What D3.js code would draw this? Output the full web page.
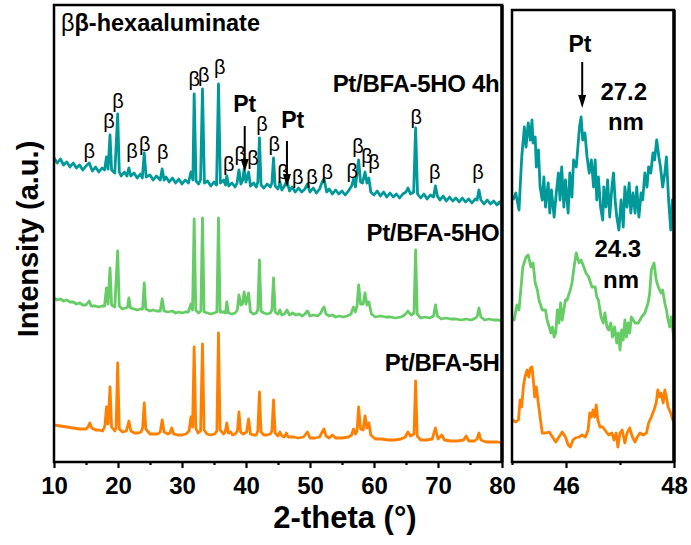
<!DOCTYPE html>
<html>
<head>
<meta charset="utf-8">
<script src="https://cdn.jsdelivr.net/npm/d3@7"></script>
<style>
  html, body { margin: 0; padding: 0; background: #fff; }
  svg { display: block; }
</style>
</head>
<body>
<script>
// ---------- XRD patterns, full range (2-theta in degrees, intensity in a.u., stacked) ----------
const pattern4h = [
  [10.0,304],[10.5,299],[11.0,303],[11.5,297],[12.0,300],[12.5,295],[13.0,299],[13.5,294],[14.0,297],[14.5,292],
  [15.0,296],[15.5,299],[16.0,291],[16.5,295],[17.0,290],[17.5,294],[17.9,292],[18.2,305],[18.45,293],[18.75,327],
  [19.0,292],[19.5,289],[19.95,348],[20.2,290],[20.5,286],[21.0,290],[21.4,286],[21.7,294],[22.0,286],[22.5,289],
  [23.0,284],[23.5,288],[23.8,284],[24.1,309],[24.4,285],[25.0,287],[25.5,282],[26.0,286],[26.6,282],[26.9,293],
  [27.2,282],[27.5,285],[28.0,280],[28.5,284],[29.0,279],[29.5,283],[30.0,278],[30.5,282],[31.0,279],[31.4,290],
  [31.7,282],[31.9,368],[32.2,281],[32.6,278],[32.9,282],[33.2,373],[33.5,279],[34.0,281],[34.5,276],[35.0,280],
  [35.4,277],[35.7,378],[36.0,279],[36.5,282],[36.8,277],[37.0,286],[37.3,276],[37.8,279],[38.3,275],[38.6,279],
  [38.9,292],[39.2,278],[39.5,282],[39.7,293],[40.0,280],[40.4,290],[40.7,276],[41.2,279],[41.6,275],[41.85,280],
  [42.1,324],[42.35,277],[42.8,274],[43.3,278],[43.8,275],[44.05,279],[44.3,304],[44.55,276],[45.0,273],[45.3,280],
  [45.6,272],[46.0,276],[46.4,281],[46.8,271],[47.2,275],[47.7,270],[48.2,274],[48.7,270],[49.2,273],[49.6,278],
  [50.0,270],[50.5,274],[51.0,269],[51.5,273],[51.9,280],[52.2,283],[52.6,270],[53.0,273],[53.5,268],[54.0,272],
  [54.5,268],[55.0,271],[55.5,267],[56.0,271],[56.5,276],[56.8,283],[57.1,275],[57.6,302],[57.9,280],[58.2,279],
  [58.6,290],[58.9,279],[59.2,284],[59.5,270],[60.0,267],[60.5,271],[61.0,266],[61.5,270],[62.0,265],[62.5,269],
  [63.0,265],[63.5,268],[64.0,264],[64.5,268],[65.0,270],[65.3,274],[65.7,268],[66.2,270],[66.5,334],[66.8,268],
  [67.3,264],[67.8,268],[68.3,263],[68.8,267],[69.3,265],[69.6,276],[69.9,266],[70.3,262],[70.8,266],[71.3,261],
  [71.8,265],[72.3,261],[72.8,264],[73.3,260],[73.8,264],[74.3,260],[74.8,263],[75.3,259],[75.8,263],[76.1,262],
  [76.4,272],[76.7,262],[77.2,258],[77.7,262],[78.2,258],[78.7,261],[79.2,257],[79.6,260],[80.0,257]
];

const patternHO = [
  [10.0,164],[10.5,162],[11.0,163],[11.5,161],[12.0,162],[12.5,160],[13.0,160],[13.5,158],[14.0,159],[14.5,157],
  [15.0,157],[15.5,161],[15.8,156],[16.5,156],[17.0,155],[17.5,156],[17.9,156],[18.2,174],[18.45,158],[18.75,194],
  [19.0,157],[19.5,155],[19.95,211],[20.2,156],[20.7,153],[21.2,154],[21.5,155],[21.7,164],[21.95,154],[22.5,153],
  [23.0,152],[23.5,153],[23.85,153],[24.1,179],[24.35,153],[25.0,151],[25.5,152],[26.0,151],[26.6,151],[26.9,163],
  [27.2,151],[27.8,150],[28.5,151],[29.0,149],[29.5,150],[30.0,149],[30.5,150],[31.0,150],[31.4,158],[31.65,152],
  [31.9,243],[32.15,152],[32.6,149],[32.95,151],[33.2,244],[33.45,150],[34.0,149],[34.5,148],[35.0,149],[35.45,150],
  [35.7,244],[35.95,150],[36.5,150],[36.8,149],[37.0,160],[37.25,149],[37.8,148],[38.3,149],[38.65,152],[38.9,167],
  [39.2,157],[39.45,158],[39.7,170],[40.0,158],[40.4,169],[40.7,150],[41.2,148],[41.6,149],[41.85,152],[42.1,202],
  [42.35,151],[42.8,149],[43.3,148],[43.8,149],[44.05,152],[44.3,184],[44.55,150],[45.0,148],[45.3,152],[45.6,147],
  [46.0,148],[46.4,152],[46.8,147],[47.3,149],[47.8,147],[48.3,148],[48.8,146],[49.2,148],[49.6,151],[50.0,146],
  [50.6,147],[51.2,146],[51.7,149],[51.95,153],[52.2,155],[52.5,148],[53.0,146],[53.5,147],[54.0,145],[54.6,146],
  [55.2,145],[55.8,146],[56.4,148],[56.8,155],[57.1,150],[57.35,156],[57.6,177],[57.9,158],[58.3,158],[58.6,169],
  [58.9,157],[59.2,160],[59.6,148],[60.2,145],[61.0,146],[61.8,145],[62.6,145],[63.4,144],[64.2,145],[64.8,147],
  [65.3,151],[65.8,147],[66.25,149],[66.5,212],[66.75,148],[67.3,144],[68.0,145],[68.7,144],[69.3,146],[69.6,157],
  [69.9,146],[70.5,143],[71.2,144],[72.0,143],[72.8,143],[73.6,142],[74.4,143],[75.2,142],[75.9,144],[76.15,146],
  [76.4,154],[76.7,145],[77.3,142],[78.0,143],[78.7,142],[79.4,142],[80.0,141]
];

const patternH = [
  [10.0,37],[11.0,36],[12.0,35],[13.0,34],[14.0,33],[15.0,33],[15.3,35],[15.6,39],[15.9,34],[16.5,32],
  [17.0,32],[17.6,31],[17.95,36],[18.2,55],[18.45,38],[18.75,75],[19.0,35],[19.5,31],[19.7,34],[19.95,99],
  [20.2,33],[20.7,30],[21.3,31],[21.7,41],[22.0,31],[22.6,29],[23.2,29],[23.6,30],[23.85,34],[24.1,59],
  [24.35,33],[25.0,28],[25.6,28],[26.2,28],[26.6,30],[26.9,42],[27.2,30],[27.8,28],[28.1,29],[28.4,34],
  [28.7,28],[29.3,27],[30.0,27],[30.6,28],[31.1,31],[31.4,45],[31.65,35],[31.9,115],[32.15,34],[32.5,29],
  [32.9,31],[33.2,118],[33.45,32],[33.9,28],[34.5,27],[35.1,28],[35.45,31],[35.7,129],[35.95,32],[36.5,28],
  [36.75,30],[37.0,39],[37.25,29],[37.6,30],[37.9,27],[38.3,28],[38.65,31],[38.9,50],[39.15,30],[39.6,28],
  [40.1,30],[40.4,43],[40.7,28],[41.2,27],[41.6,27],[41.85,31],[42.1,70],[42.35,30],[42.8,27],[43.3,27],
  [43.8,28],[44.05,31],[44.3,62],[44.55,29],[45.0,26],[45.3,30],[45.6,26],[46.0,25],[46.3,29],[46.6,25],
  [47.4,25],[48.2,24],[49.0,25],[49.6,30],[50.0,24],[50.8,24],[51.5,25],[51.9,30],[52.2,33],[52.5,26],
  [53.0,24],[53.5,27],[54.0,24],[55.0,24],[56.0,25],[56.5,27],[56.8,33],[57.1,28],[57.35,31],[57.6,55],
  [57.9,33],[58.3,32],[58.6,46],[58.9,34],[59.2,39],[59.5,27],[60.2,23],[61.2,23],[62.2,22],[63.2,22],
  [64.2,23],[64.9,25],[65.3,30],[65.7,26],[66.25,28],[66.5,81],[66.75,26],[67.3,22],[68.2,22],[69.1,23],
  [69.6,34],[70.0,23],[70.6,27],[71.0,22],[72.0,21],[73.0,21],[74.0,22],[74.4,26],[74.8,21],[75.7,21],
  [76.1,23],[76.4,29],[76.7,22],[77.5,20],[78.5,20],[79.3,20],[80.0,19]
];

// ---------- Pt(200) region, 45-48 degrees (magnified intensity, stacked) ----------
const zoom4h = [
  [45.02,262],[45.07,269],[45.13,252],[45.18,305],[45.23,335],[45.26,315],[45.30,339],[45.34,322],[45.37,342],[45.39,319],
  [45.43,325],[45.45,295],[45.49,312],[45.52,275],[45.56,262],[45.59,285],[45.62,255],[45.67,279],[45.70,249],[45.73,272],
  [45.78,245],[45.82,269],[45.86,289],[45.89,262],[45.92,295],[45.96,255],[45.99,282],[46.04,249],[46.07,289],[46.11,265],
  [46.14,302],[46.19,295],[46.22,315],[46.25,335],[46.28,345],[46.31,322],[46.35,329],[46.39,305],[46.43,289],[46.47,302],
  [46.51,275],[46.54,302],[46.57,262],[46.60,285],[46.64,255],[46.68,242],[46.70,275],[46.74,255],[46.77,282],[46.81,245],
  [46.85,275],[46.88,289],[46.91,262],[46.94,245],[46.98,232],[47.02,262],[47.06,235],[47.09,275],[47.13,255],[47.17,279],
  [47.20,249],[47.24,269],[47.28,249],[47.31,275],[47.35,245],[47.39,269],[47.42,262],[47.46,289],[47.50,275],[47.53,295],
  [47.57,289],[47.61,309],[47.64,302],[47.68,322],[47.72,305],[47.75,295],[47.79,275],[47.83,289],[47.86,305],[47.90,262],
  [47.94,232],[47.97,262],[48.00,242]
];

const zoomHO = [
  [45.01,145],[45.04,142],[45.09,157],[45.13,152],[45.20,195],[45.26,205],[45.30,207],[45.35,195],[45.39,199],[45.43,179],
  [45.47,172],[45.50,162],[45.56,152],[45.62,152],[45.65,142],[45.69,135],[45.72,129],[45.75,135],[45.78,125],[45.81,129],
  [45.84,152],[45.87,139],[45.90,159],[45.93,142],[45.96,152],[45.99,162],[46.02,162],[46.08,172],[46.11,179],[46.16,199],
  [46.19,209],[46.24,199],[46.28,202],[46.33,195],[46.37,189],[46.42,185],[46.48,175],[46.54,175],[46.57,165],[46.60,162],
  [46.65,145],[46.69,139],[46.72,149],[46.76,135],[46.79,132],[46.83,139],[46.86,125],[46.90,135],[46.94,119],[46.97,129],
  [47.00,112],[47.03,132],[47.06,122],[47.09,142],[47.12,125],[47.15,139],[47.18,129],[47.21,145],[47.28,139],[47.34,139],
  [47.40,145],[47.46,149],[47.52,159],[47.55,169],[47.58,192],[47.63,199],[47.67,182],[47.71,175],[47.76,169],[47.79,172],
  [47.83,159],[47.86,152],[47.89,142],[47.92,135],[47.95,145],[48.00,122]
];

const zoomH = [
  [45.01,42],[45.07,40],[45.12,42],[45.15,62],[45.18,55],[45.21,75],[45.24,85],[45.28,92],[45.31,85],[45.34,94],
  [45.37,95],[45.40,79],[45.42,65],[45.45,75],[45.48,62],[45.52,45],[45.56,29],[45.62,29],[45.69,30],[45.75,25],
  [45.81,20],[45.87,25],[45.93,30],[45.99,25],[46.04,17],[46.08,15],[46.13,22],[46.17,24],[46.24,25],[46.30,27],
  [46.36,25],[46.41,32],[46.44,49],[46.47,45],[46.50,52],[46.53,45],[46.56,57],[46.59,42],[46.63,35],[46.68,35],
  [46.72,32],[46.79,27],[46.85,29],[46.89,22],[46.93,29],[46.96,15],[47.00,29],[47.04,32],[47.09,19],[47.13,29],
  [47.18,34],[47.23,25],[47.28,20],[47.32,25],[47.37,29],[47.43,27],[47.49,29],[47.53,39],[47.58,45],[47.63,52],
  [47.67,59],[47.70,72],[47.73,65],[47.76,69],[47.80,59],[47.83,72],[47.86,65],[47.89,55],[47.94,49],[47.98,42],
  [48.00,39]
];

// ---------- series, labels and ticks ----------
const sampleNames  = ["Pt/BFA-5HO 4h", "Pt/BFA-5HO", "Pt/BFA-5H"];
const sampleColors = ["#00999a", "#66cc66", "#ff8000"];
const sampleLabelLevel = [370, 221, 91];

// beta-hexaaluminate reflections: [2-theta, label height]
const betaMarks = [
  [15.5,310],[18.6,340],[20.0,360],[22.2,310],[24.2,317],[27.0,309],[31.9,382],[33.4,386],[35.9,394],[37.3,297],
  [39.1,307],[41.1,303],[42.5,337],[44.4,317],[45.8,289],[48.1,284],[50.3,284],[52.7,289],[56.6,290],[57.5,315],
  [58.9,305],[60.0,299],[66.6,344],[69.5,289],[76.25,289]
];

// Pt reflections in the full-range panel: arrow position, text position, levels
const ptMain = [
  { theta: 39.8, textTheta: 39.8, textLevel: 350, top: 336, tip: 290 },
  { theta: 46.4, textTheta: 47.3, textLevel: 334, top: 321, tip: 275 }
];
const ptZoom = { theta: 46.30, textTheta: 46.26, textLevel: 410, top: 400, tip: 354 };

// crystallite sizes from the Pt(200) reflection
const sizeLabels = [
  { value: "27.2", theta: 47.07, level: 362, unitTheta: 47.11, unitLevel: 332 },
  { value: "24.3", theta: 46.96, level: 205, unitTheta: 47.02, unitLevel: 174 }
];

const mainTicks = [10, 20, 30, 40, 50, 60, 70, 80];
const mainMinorTicks = [15, 25, 35, 45, 55, 65, 75];
const zoomTicks = [46, 48];
const zoomMinorTicks = [45, 47];

// ---------- drawing ----------
const W = 691, H = 545;
const FONT = "'Liberation Sans', Arial, Helvetica, sans-serif";

const mainBox = { left: 54, right: 502, top: 5, bottom: 462 };
const zoomBox = { left: 512, right: 674, top: 10, bottom: 462 };

const xMain = d3.scaleLinear().domain([10, 80]).range([mainBox.left, mainBox.right]);
const yMain = d3.scaleLinear().domain([0, 457]).range([mainBox.bottom, mainBox.top]);
const xZoom = d3.scaleLinear().domain([45, 48]).range([zoomBox.left, zoomBox.right]);
const yZoom = d3.scaleLinear().domain([0, 452]).range([zoomBox.bottom, zoomBox.top]);

const svg = d3.select("body").append("svg")
  .attr("width", W).attr("height", H)
  .attr("font-family", FONT);

svg.append("defs").selectAll("clipPath")
  .data([["clipMain", mainBox], ["clipZoom", zoomBox]])
  .join("clipPath").attr("id", d => d[0])
  .append("rect")
  .attr("x", d => d[1].left).attr("y", d => d[1].top)
  .attr("width", d => d[1].right - d[1].left).attr("height", d => d[1].bottom - d[1].top);

// traces
const mainLine = d3.line().x(d => xMain(d[0])).y(d => yMain(d[1]));
const zoomLine = d3.line().x(d => xZoom(d[0])).y(d => yZoom(d[1]));

const mainSeries = [pattern4h, patternHO, patternH];
const zoomSeries = [zoom4h, zoomHO, zoomH];

svg.append("g").attr("clip-path", "url(#clipMain)")
  .selectAll("path").data(mainSeries).join("path")
  .attr("d", mainLine)
  .attr("fill", "none")
  .attr("stroke", (d, i) => sampleColors[i])
  .attr("stroke-width", 2.8)
  .attr("stroke-linejoin", "round");

svg.append("g").attr("clip-path", "url(#clipZoom)")
  .selectAll("path").data(zoomSeries).join("path")
  .attr("d", zoomLine)
  .attr("fill", "none")
  .attr("stroke", (d, i) => sampleColors[i])
  .attr("stroke-width", 2.8)
  .attr("stroke-linejoin", "round");

// frames
[mainBox, zoomBox].forEach(b => {
  svg.append("rect")
    .attr("x", b.left).attr("y", b.top)
    .attr("width", b.right - b.left).attr("height", b.bottom - b.top)
    .attr("fill", "none").attr("stroke", "#000").attr("stroke-width", 2.5);
  svg.append("line")
    .attr("x1", b.right).attr("x2", b.right).attr("y1", b.top).attr("y2", b.bottom)
    .attr("stroke", "#000").attr("stroke-width", 3.4);
});

// axes
function styleAxis(g) {
  g.select(".domain").remove();
  g.selectAll(".tick line").attr("stroke", "#000").attr("stroke-width", 2.2);
  g.selectAll(".tick text")
    .attr("fill", "#000").attr("font-size", 24).attr("font-weight", "bold")
    .attr("font-family", FONT);
}

svg.append("g").attr("transform", `translate(0,${mainBox.bottom})`)
  .call(d3.axisBottom(xMain).tickValues(mainTicks).tickSize(6).tickPadding(9).tickFormat(d3.format("d")))
  .call(styleAxis);
svg.append("g").attr("transform", `translate(0,${mainBox.bottom})`)
  .call(d3.axisBottom(xMain).tickValues(mainMinorTicks).tickSize(3).tickFormat(""))
  .call(styleAxis);
svg.append("g").attr("transform", `translate(0,${zoomBox.bottom})`)
  .call(d3.axisBottom(xZoom).tickValues(zoomTicks).tickSize(6).tickPadding(9).tickFormat(d3.format("d")))
  .call(styleAxis);
svg.append("g").attr("transform", `translate(0,${zoomBox.bottom})`)
  .call(d3.axisBottom(xZoom).tickValues(zoomMinorTicks).tickSize(3).tickFormat(""))
  .call(styleAxis);

// axis titles
svg.append("text")
  .attr("x", 345).attr("y", 528)
  .attr("text-anchor", "middle")
  .attr("font-size", 31).attr("font-weight", "bold")
  .text("2-theta (°)");

svg.append("text")
  .attr("transform", "translate(38,239) rotate(-90)")
  .attr("text-anchor", "middle")
  .attr("font-size", 29).attr("font-weight", "bold")
  .text("Intensity (a.u.)");

// sample names
svg.append("g").selectAll("text").data(sampleNames).join("text")
  .attr("x", xMain(79.6))
  .attr("y", (d, i) => yMain(sampleLabelLevel[i]))
  .attr("text-anchor", "end")
  .attr("font-size", 24).attr("font-weight", "bold")
  .attr("letter-spacing", -0.3)
  .text(d => d);

// phase legend
const legend = svg.append("text")
  .attr("x", 61).attr("y", 31)
  .attr("font-size", 23.5);
legend.append("tspan").text("β");
legend.append("tspan").attr("font-weight", "bold").text("β-hexaaluminate");

// beta markers
svg.append("g").selectAll("text").data(betaMarks).join("text")
  .attr("x", d => xMain(d[0]))
  .attr("y", d => yMain(d[1]) + 6)
  .attr("text-anchor", "middle")
  .attr("font-size", 20)
  .text("β");

// Pt arrows
function ptArrow(g, x, yTop, yTip, textX, textY) {
  g.append("text")
    .attr("x", textX).attr("y", textY)
    .attr("text-anchor", "middle")
    .attr("font-size", 23).attr("font-weight", "bold")
    .text("Pt");
  g.append("line")
    .attr("x1", x).attr("x2", x).attr("y1", yTop).attr("y2", yTip - 10)
    .attr("stroke", "#000").attr("stroke-width", 2);
  g.append("path")
    .attr("d", `M${x - 4},${yTip - 13} L${x + 4},${yTip - 13} L${x},${yTip} Z`)
    .attr("fill", "#000");
}

const ann = svg.append("g");
ptMain.forEach(p => ptArrow(ann, xMain(p.theta), yMain(p.top), yMain(p.tip), xMain(p.textTheta), yMain(p.textLevel)));
ptArrow(ann, xZoom(ptZoom.theta), yZoom(ptZoom.top), yZoom(ptZoom.tip), xZoom(ptZoom.textTheta), yZoom(ptZoom.textLevel));

// crystallite size labels
sizeLabels.forEach(s => {
  ann.append("text")
    .attr("x", xZoom(s.theta)).attr("y", yZoom(s.level))
    .attr("text-anchor", "middle")
    .attr("font-size", 24).attr("font-weight", "bold")
    .text(s.value);
  ann.append("text")
    .attr("x", xZoom(s.unitTheta)).attr("y", yZoom(s.unitLevel))
    .attr("text-anchor", "middle")
    .attr("font-size", 24).attr("font-weight", "bold")
    .text("nm");
});
</script>
</body>
</html>
